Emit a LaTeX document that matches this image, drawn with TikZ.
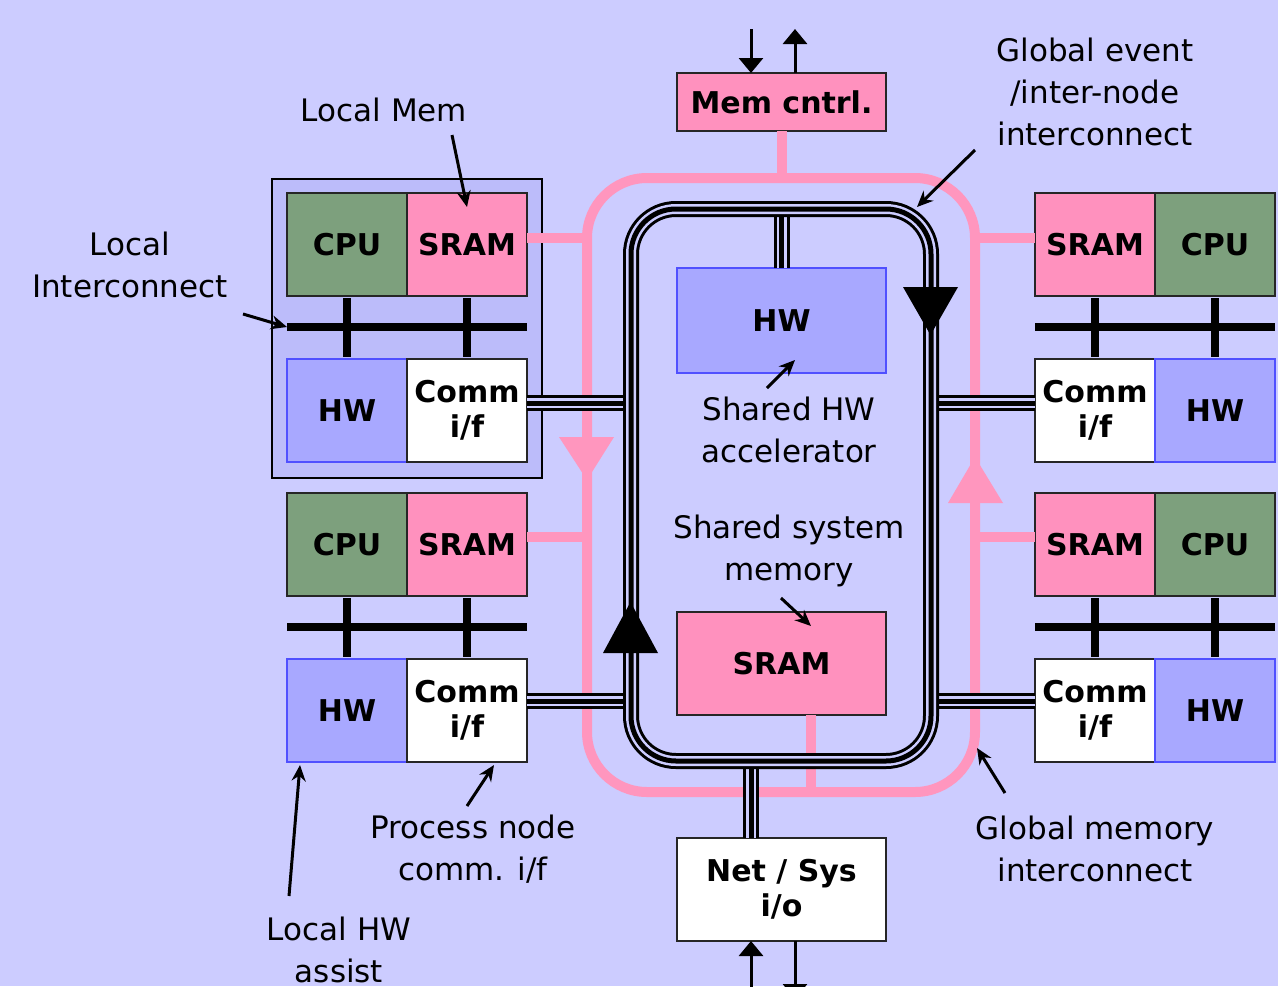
\documentclass[tikz,border=0pt]{standalone}
\usepackage{fontspec}
\setmainfont{DejaVu Sans}
\usetikzlibrary{arrows.meta}
\definecolor{bgc}{RGB}{204,204,255}
\definecolor{framec}{RGB}{188,188,250}
\definecolor{cpuc}{RGB}{125,160,125}
\definecolor{sramc}{RGB}{255,145,190}
\definecolor{hwc}{RGB}{168,168,255}
\definecolor{hwbord}{RGB}{80,80,255}
\definecolor{ringc}{RGB}{255,150,190}
\begin{document}
\begin{tikzpicture}[x=1pt,y=-1pt,
 box/.style={draw=black!85, line width=1.5pt, inner sep=0pt, outer sep=0pt, minimum width=120pt, minimum height=103pt, font=\fontsize{30}{35}\selectfont\bfseries, align=center},
 cpub/.style={box, fill=cpuc},
 sramb/.style={box, fill=sramc},
 hwbox/.style={box, fill=hwc, draw=hwbord},
 commb/.style={box, fill=white},
 lbl/.style={font=\fontsize{31}{42}\selectfont, align=center, inner sep=0pt},
 ptr/.style={line width=3pt, -{Stealth[length=16pt,width=14pt]}},
 bus/.style={line width=8pt},
 pinkline/.style={draw=ringc, line width=10pt},
 trip/.style={preaction={draw=black, line width=16pt}, draw=bgc, line width=10pt, postaction={draw=black, line width=5pt}},
 io/.style={line width=3pt, -{Triangle[length=15pt,width=24pt]}},
]
\fill[bgc] (0,0) rectangle (1278,986);
\useasboundingbox (0,0) rectangle (1278,986);

% frame of one process node
\draw[fill=framec, line width=1.5pt] (272,179) rectangle (542,478);

% process nodes
\node[cpub] (cpuA) at (347,244.5) {CPU};
\node[sramb] (sramA) at (467,244.5) {SRAM};
\node[hwbox] (hwA) at (347,410.5) {HW};
\node[commb] (commA) at (467,410.5) {Comm\\i/f};

\node[cpub] (cpuB) at (347,544.5) {CPU};
\node[sramb] (sramB) at (467,544.5) {SRAM};
\node[hwbox] (hwB) at (347,710.5) {HW};
\node[commb] (commB) at (467,710.5) {Comm\\i/f};

\node[sramb] (sramC) at (1095,244.5) {SRAM};
\node[cpub] (cpuC) at (1215,244.5) {CPU};
\node[commb] (commC) at (1095,410.5) {Comm\\i/f};
\node[hwbox] (hwC) at (1215,410.5) {HW};

\node[sramb] (sramD) at (1095,544.5) {SRAM};
\node[cpub] (cpuD) at (1215,544.5) {CPU};
\node[commb] (commD) at (1095,710.5) {Comm\\i/f};
\node[hwbox] (hwD) at (1215,710.5) {HW};

% local buses
\coordinate (busAl) at (287,327); \coordinate (busAr) at (527,327);
\coordinate (busBl) at (287,627); \coordinate (busBr) at (527,627);
\coordinate (busCl) at (1035,327); \coordinate (busCr) at (1275,327);
\coordinate (busDl) at (1035,627); \coordinate (busDr) at (1275,627);
\draw[bus] (busAl) -- (busAr);
\draw[bus] (busBl) -- (busBr);
\draw[bus] (busCl) -- (busCr);
\draw[bus] (busDl) -- (busDr);
\draw[bus, shorten <=2pt, shorten >=2pt] (cpuA.south) -- (hwA.north);
\draw[bus, shorten <=2pt, shorten >=2pt] (sramA.south) -- (commA.north);
\draw[bus, shorten <=2pt, shorten >=2pt] (cpuB.south) -- (hwB.north);
\draw[bus, shorten <=2pt, shorten >=2pt] (sramB.south) -- (commB.north);
\draw[bus, shorten <=2pt, shorten >=2pt] (sramC.south) -- (commC.north);
\draw[bus, shorten <=2pt, shorten >=2pt] (cpuC.south) -- (hwC.north);
\draw[bus, shorten <=2pt, shorten >=2pt] (sramD.south) -- (commD.north);
\draw[bus, shorten <=2pt, shorten >=2pt] (cpuD.south) -- (hwD.north);

% central nodes
\node[sramb, minimum width=209pt, minimum height=58pt] (mem) at (781.5,102) {Mem cntrl.};
\node[hwbox, minimum width=209pt, minimum height=105pt] (hwS) at (781.5,320.5) {HW};
\node[sramb, minimum width=209pt, minimum height=103pt] (sramS) at (781.5,663.5) {SRAM};
\node[commb, minimum width=209pt, minimum height=103pt] (net) at (781.5,889.5) {Net / Sys\\i/o};

% ring placeholders
\node[minimum width=388pt, minimum height=614pt, inner sep=0pt, outer sep=0pt] (pring) at (781,485) {};
\node[minimum width=300pt, minimum height=552pt, inner sep=0pt, outer sep=0pt] (bring) at (781,485) {};

% global memory interconnect (pink)
\draw[pinkline, rounded corners=60pt] (pring.north west) rectangle (pring.south east);
\draw[pinkline] (mem.south) -- (mem.south |- pring.north);
\draw[pinkline] ([yshift=6.5pt]sramA.east) -- ([yshift=6.5pt]sramA.east -| pring.west);
\draw[pinkline] ([yshift=7.5pt]sramB.east) -- ([yshift=7.5pt]sramB.east -| pring.west);
\draw[pinkline] ([yshift=6.5pt]sramC.west) -- ([yshift=6.5pt]sramC.west -| pring.east);
\draw[pinkline] ([yshift=7.5pt]sramD.west) -- ([yshift=7.5pt]sramD.west -| pring.east);
\draw[pinkline] ([xshift=29.5pt]sramS.south) -- ([xshift=29.5pt]sramS.south |- pring.south);
\fill[ringc] (587,480) -- (559,437) -- (614,437) -- cycle;
\fill[ringc] (975,457) -- (948,503) -- (1003,503) -- cycle;

% global event interconnect (black triple)
\draw[trip] ([yshift=7.5pt]commA.east) -- ([yshift=7.5pt]commA.east -| bring.west);
\draw[trip] ([yshift=9.5pt]commB.east) -- ([yshift=9.5pt]commB.east -| bring.west);
\draw[trip] ([yshift=7.5pt]commC.west) -- ([yshift=7.5pt]commC.west -| bring.east);
\draw[trip] ([yshift=9.5pt]commD.west) -- ([yshift=9.5pt]commD.west -| bring.east);
\draw[trip] (hwS.north) -- (hwS.north |- bring.north);
\draw[trip] ([xshift=-30.5pt]net.north) -- ([xshift=-30.5pt]net.north |- bring.south);
\draw[trip, rounded corners=45pt] (bring.north west) rectangle (bring.south east);
\fill[black] (930.5,335) -- (903,287) -- (958,287) -- cycle;
\fill[black] (630.5,602) -- (603,653) -- (658,653) -- cycle;

% external i/o arrows
\coordinate (memin) at (751,29);
\coordinate (memout) at (795,29);
\coordinate (netin) at (751,995);
\coordinate (netout) at (795,999);
\draw[io] (memin) -- (memin |- mem.north);
\draw[io] (memout |- mem.north) -- (memout);
\draw[io] (netin) -- (netin |- net.south);
\draw[io] (netout |- net.south) -- (netout);

% labels
\node[lbl] (lmem) at (384,110) {Local Mem};
\node[lbl] (lint) at (130,265) {Local\\Interconnect};
\node[lbl] (gev) at (1095,92) {Global event\\/inter-node\\interconnect};
\node[lbl] (shw) at (789,430) {Shared HW\\accelerator};
\node[lbl] (ssm) at (789,551) {Shared system\\memory};
\node[lbl] (pnc) at (473,849) {Process node\\comm. i/f};
\node[lbl] (lhw) at (339,950) {Local HW\\assist};
\node[lbl] (gmi) at (1095,849) {Global memory\\interconnect};

% label pointers
\coordinate (p1a) at (452,135); \coordinate (p1b) at (467,207);
\coordinate (p2a) at (243,314); \coordinate (p2b) at (287,327);
\coordinate (p3a) at (975,150); \coordinate (p3b) at (917,207);
\coordinate (p4a) at (767,388); \coordinate (p4b) at (795,360);
\coordinate (p5a) at (781,598); \coordinate (p5b) at (811,626);
\coordinate (p6a) at (467,806); \coordinate (p6b) at (494,765);
\coordinate (p7a) at (289,896); \coordinate (p7b) at (300,765);
\coordinate (p8a) at (1005,793); \coordinate (p8b) at (977,748);
\draw[ptr] (p1a) -- (p1b);
\draw[ptr] (p2a) -- (p2b);
\draw[ptr] (p3a) -- (p3b);
\draw[ptr] (p4a) -- (p4b);
\draw[ptr] (p5a) -- (p5b);
\draw[ptr] (p6a) -- (p6b);
\draw[ptr] (p7a) -- (p7b);
\draw[ptr] (p8a) -- (p8b);
\end{tikzpicture}
\end{document}
